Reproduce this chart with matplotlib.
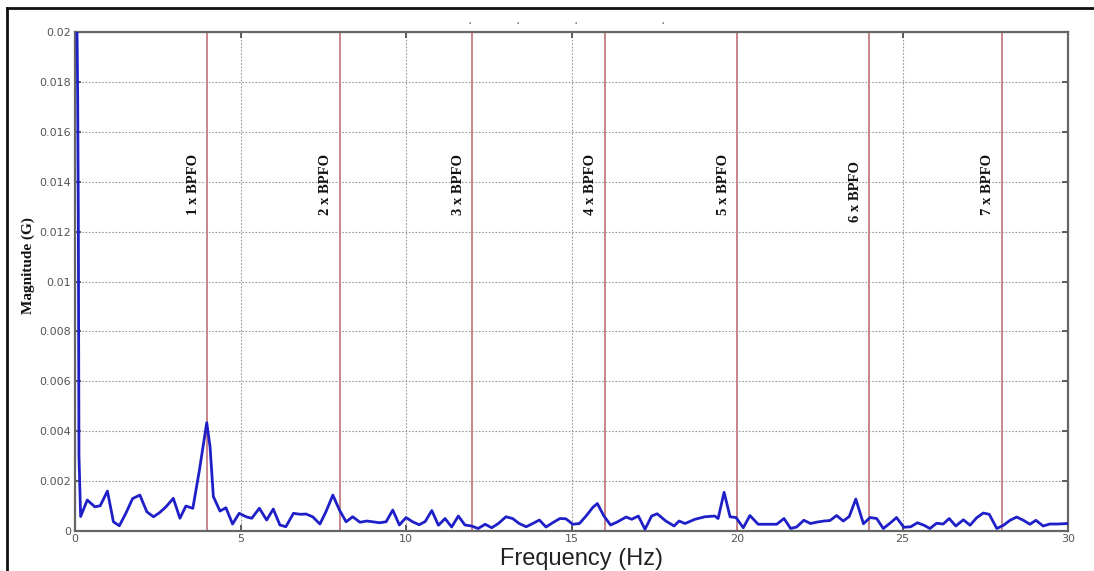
import matplotlib
matplotlib.use("Agg")
import matplotlib.pyplot as plt
from matplotlib.lines import Line2D

# ---- data ----
freq = [0.03, 0.08, 0.10, 0.12, 0.17, 0.37, 0.60, 0.76, 0.98, 1.16, 1.34, 1.54, 1.74, 1.96,
        2.17, 2.37, 2.55, 2.75, 2.97, 3.17, 3.35, 3.56, 3.76, 3.98, 4.08, 4.18, 4.38, 4.56,
        4.76, 4.96, 5.17, 5.34, 5.57, 5.79, 5.99, 6.19, 6.37, 6.60, 6.80, 6.98, 7.18, 7.40,
        7.58, 7.79, 7.99, 8.19, 8.39, 8.61, 8.81, 8.99, 9.20, 9.40, 9.60, 9.80, 10.00, 10.20,
        10.40, 10.58, 10.78, 10.98, 11.18, 11.38, 11.58, 11.78, 11.98, 12.18, 12.39, 12.59,
        12.79, 13.02, 13.22, 13.42, 13.63, 13.83, 14.03, 14.23, 14.43, 14.65, 14.83, 15.04,
        15.24, 15.44, 15.64, 15.78, 15.98, 16.18, 16.38, 16.65, 16.82, 17.02, 17.22, 17.42,
        17.59, 17.85, 18.10, 18.25, 18.43, 18.73, 19.03, 19.33, 19.43, 19.61, 19.79, 19.97,
        20.19, 20.39, 20.64, 20.90, 21.20, 21.42, 21.62, 21.80, 22.02, 22.22, 22.43, 22.63,
        22.81, 23.01, 23.21, 23.39, 23.59, 23.82, 24.02, 24.22, 24.42, 24.62, 24.82, 25.04,
        25.25, 25.45, 25.65, 25.83, 26.03, 26.23, 26.41, 26.61, 26.84, 27.04, 27.24, 27.44,
        27.62, 27.85, 28.05, 28.25, 28.45, 28.65, 28.85, 29.03, 29.25, 29.45, 29.70, 30.00]
magnitude = [0.0240, 0.0176, 0.0127, 0.0030, 0.00058, 0.00124, 0.00097, 0.00101, 0.00160,
             0.00037, 0.00021, 0.00072, 0.00130, 0.00144, 0.00077, 0.00057, 0.00073, 0.00097,
             0.00131, 0.00051, 0.00100, 0.00091, 0.00245, 0.00434, 0.00338, 0.00138, 0.00080,
             0.00093, 0.00028, 0.00071, 0.00057, 0.00051, 0.00091, 0.00044, 0.00088, 0.00024,
             0.00017, 0.00071, 0.00067, 0.00068, 0.00057, 0.00028, 0.00077, 0.00144, 0.00084,
             0.00037, 0.00057, 0.00035, 0.00040, 0.00037, 0.00033, 0.00037, 0.00084, 0.00024,
             0.00054, 0.00037, 0.00025, 0.00038, 0.00082, 0.00023, 0.00050, 0.00016, 0.00060,
             0.00024, 0.00020, 0.00010, 0.00027, 0.00013, 0.00030, 0.00057, 0.00050, 0.00030,
             0.00017, 0.00030, 0.00044, 0.00016, 0.00033, 0.00050, 0.00049, 0.00027, 0.00030,
             0.00060, 0.00094, 0.00110, 0.00060, 0.00024, 0.00036, 0.00056, 0.00047, 0.00060,
             0.00007, 0.00060, 0.00069, 0.00040, 0.00020, 0.00040, 0.00030, 0.00047, 0.00057,
             0.00060, 0.00050, 0.00155, 0.00057, 0.00054, 0.00013, 0.00062, 0.00027, 0.00027,
             0.00027, 0.00050, 0.00010, 0.00016, 0.00043, 0.00030, 0.00036, 0.00040, 0.00042,
             0.00062, 0.00040, 0.00058, 0.00128, 0.00029, 0.00054, 0.00050, 0.00010, 0.00031,
             0.00054, 0.00015, 0.00017, 0.00033, 0.00023, 0.00010, 0.00031, 0.00028, 0.00050,
             0.00020, 0.00045, 0.00023, 0.00053, 0.00072, 0.00067, 0.00010, 0.00023, 0.00043,
             0.00056, 0.00043, 0.00027, 0.00043, 0.00020, 0.00028, 0.00028, 0.00030]
bpfo_freqs = [4, 8, 12, 16, 20, 24, 28]
bpfo_labels = ["1 x BPFO", "2 x BPFO", "3 x BPFO", "4 x BPFO", "5 x BPFO", "6 x BPFO", "7 x BPFO"]
bpfo_label_y = [0.0139, 0.0139, 0.0139, 0.0139, 0.0139, 0.0136, 0.0139]
xticks = [0, 5, 10, 15, 20, 25, 30]
xtick_labels = ["0", "5", "10", "15", "20", "25", "30"]
yticks = [0, 0.002, 0.004, 0.006, 0.008, 0.01, 0.012, 0.014, 0.016, 0.018, 0.02]
ytick_labels = ["0", "0.002", "0.004", "0.006", "0.008", "0.01", "0.012", "0.014",
                "0.016", "0.018", "0.02"]

W, H = 1094, 571
fig = plt.figure(figsize=(W / 100, H / 100), dpi=100)
fig.patch.set_facecolor("white")
ax = fig.add_axes([75 / W, 1 - 531 / H, (1068 - 75) / W, (531 - 32) / H])

ax.set_xlim(0, 30)
ax.set_ylim(0, 0.02)
ax.set_xticks(xticks)
ax.set_xticklabels(xtick_labels)
ax.set_yticks(yticks)
ax.set_yticklabels(ytick_labels)
ax.grid(True, color="#9a9a9a", linestyle=(0, (1.5, 1.5)), linewidth=0.8)
ax.set_axisbelow(True)

ax.tick_params(direction="in", top=True, right=True, length=4, width=1.2,
               color="#444444", labelsize=8, labelcolor="#555555", pad=3)
ax.tick_params(axis="x", pad=2)
for s in ax.spines.values():
    s.set_color("#666666")
    s.set_linewidth(1.6)

for f, lab, ly in zip(bpfo_freqs, bpfo_labels, bpfo_label_y):
    ax.axvline(f, color="#c8858a", linewidth=1.4, zorder=2)
    ax.text(f - 0.42, ly, lab, rotation=90, ha="center", va="center",
            family="Liberation Serif", fontweight="bold", fontsize=10.5, color="#111111")

ax.plot(freq, magnitude, color="#1f1fc8", linewidth=2.0, zorder=3, clip_on=True)

# axis titles placed in figure pixels
fig.text(28 / W, 1 - 266 / H, "Magnitude (G)", rotation=90, ha="center", va="center",
         family="Liberation Serif", fontweight="bold", fontsize=11, color="#111111")
fig.text(581 / W, 1 - 565 / H, "Frequency (Hz)", ha="center", va="baseline",
         family="Liberation Sans", fontsize=17, color="#222222")

# faint title remnants
for xd in [470, 518, 576, 663]:
    fig.text(xd / W, 1 - 24 / H, "·", ha="center", va="center", fontsize=10, color="#777777")

# outer frame (left and top edges)
fig.add_artist(Line2D([7 / W, 7 / W], [0, 1 - 8 / H], transform=fig.transFigure,
                      color="#111111", linewidth=2))
fig.add_artist(Line2D([7 / W, 1], [1 - 8 / H, 1 - 8 / H], transform=fig.transFigure,
                      color="#111111", linewidth=2))

fig.savefig("out.png", dpi=100)
